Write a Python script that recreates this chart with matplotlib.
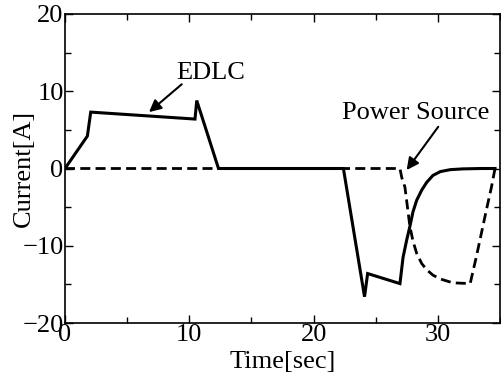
import matplotlib
matplotlib.use("Agg")
import matplotlib.pyplot as plt
from matplotlib.ticker import MultipleLocator

# EDLC current (solid)
edlc_t = [0, 1.8, 2.07, 10.46, 10.6, 12.35, 22.4, 24.1, 24.35, 26.95,
          27.2, 27.5, 27.75, 28.0, 28.3, 28.7, 29.1, 29.6, 30.2, 31.0, 32.0, 33.5, 34.6]
edlc_i = [0, 4.2, 7.3, 6.4, 8.8, 0, 0, -16.6, -13.6, -14.9,
          -11.5, -9.2, -7.5, -5.6, -4.1, -2.8, -1.8, -0.9, -0.4, -0.15, -0.05, 0, 0]

# Power source current (dashed)
ps_t = [0, 26.95, 27.1, 27.35, 27.75, 28.0, 28.3, 28.7, 29.1, 29.6, 30.2, 31.2, 32.6,
        33.1, 33.5, 33.9, 34.3, 34.6]
ps_i = [0, 0, -1.2, -2.4, -7.5, -9.4, -11.0, -12.3, -13.1, -13.8, -14.3, -14.8, -14.9,
        -11.4, -8.4, -5.4, -2.5, 0]

plt.rcParams['font.family'] = ['Liberation Serif', 'DejaVu Serif']

fig = plt.figure(figsize=(5.02, 3.76), dpi=100)
ax = fig.add_axes([65/502, 1-323/376, 435/502, 309/376])

ax.plot(edlc_t, edlc_i, color='black', lw=2.2, solid_joinstyle='miter')
ax.plot(ps_t, ps_i, color='black', lw=2.0, linestyle=(0, (3.6, 1.9)))

ax.set_xlim(0, 35)
ax.set_ylim(-20, 20)
ax.xaxis.set_major_locator(MultipleLocator(10))
ax.xaxis.set_minor_locator(MultipleLocator(5))
ax.yaxis.set_major_locator(MultipleLocator(10))
ax.yaxis.set_minor_locator(MultipleLocator(5))
ax.tick_params(which='both', direction='in', top=True, right=True, labelsize=19,
               width=1.0, pad=1)
ax.tick_params(which='major', length=6)
ax.tick_params(which='minor', length=4)
for s in ax.spines.values():
    s.set_linewidth(1.2)

ax.set_xlabel('Time[sec]', fontsize=19, labelpad=3)
ax.set_ylabel('Current[A]', fontsize=19, labelpad=-9)

arrow = dict(arrowstyle='-|>', color='black', lw=1.5, shrinkA=0, shrinkB=0,
             mutation_scale=18)
ax.text(11.75, 12.35, 'EDLC', fontsize=19, ha='center', va='center')
ax.annotate('', xy=(6.76, 7.3), xytext=(9.39, 10.9), arrowprops=arrow)
ax.text(28.24, 7.18, 'Power Source', fontsize=19, ha='center', va='center')
ax.annotate('', xy=(27.49, -0.2), xytext=(30.03, 5.4), arrowprops=arrow)

fig.savefig('out.png', dpi=100)
